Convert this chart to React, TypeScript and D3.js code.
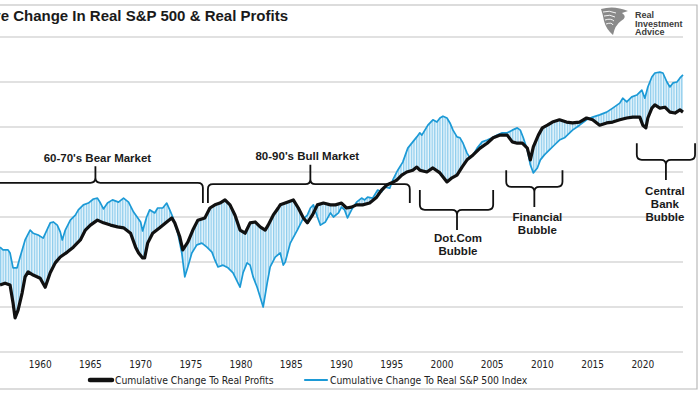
import React from "react";
import * as d3 from "d3";

// Real S&P 500 (blue), in chart units (one grid step = 100)
const spYears = [1956.0, 1956.3, 1956.8, 1957.0, 1957.3, 1957.7, 1958.0, 1958.5, 1959.0, 1959.3, 1959.8, 1960.3, 1961.0, 1961.3, 1961.7, 1962.0, 1962.2, 1962.5, 1963.0, 1963.5, 1963.8, 1964.3, 1964.8, 1965.3, 1965.7, 1966.0, 1966.3, 1966.7, 1967.2, 1967.8, 1968.3, 1968.8, 1969.3, 1970.0, 1970.2, 1970.6, 1970.9, 1971.4, 1971.7, 1972.2, 1972.6, 1972.9, 1973.2, 1973.7, 1974.1, 1974.4, 1974.7, 1975.1, 1975.6, 1976.1, 1976.6, 1977.1, 1977.4, 1977.7, 1978.2, 1978.7, 1979.2, 1979.7, 1979.9, 1980.2, 1980.6, 1980.9, 1981.2, 1981.6, 1981.9, 1982.2, 1982.6, 1982.9, 1983.4, 1983.9, 1984.2, 1984.4, 1984.9, 1985.6, 1986.1, 1986.6, 1986.9, 1987.2, 1987.6, 1987.9, 1988.4, 1988.9, 1989.2, 1989.7, 1990.0, 1990.3, 1990.6, 1991.0, 1991.5, 1992.0, 1992.3, 1992.6, 1993.1, 1993.6, 1994.0, 1994.3, 1994.8, 1995.1, 1995.6, 1996.1, 1996.6, 1997.1, 1997.5, 1997.8, 1998.0, 1998.3, 1998.6, 1999.1, 1999.5, 1999.8, 2000.1, 2000.5, 2000.8, 2001.1, 2001.5, 2001.8, 2002.1, 2002.5, 2002.8, 2003.1, 2003.5, 2004.0, 2004.5, 2005.0, 2005.5, 2006.0, 2006.5, 2007.0, 2007.5, 2007.8, 2008.1, 2008.5, 2008.8, 2009.1, 2009.5, 2009.8, 2010.2, 2010.7, 2011.2, 2011.7, 2012.2, 2013.0, 2013.7, 2014.4, 2015.0, 2015.7, 2016.4, 2017.0, 2017.7, 2018.0, 2018.4, 2018.9, 2019.4, 2019.9, 2020.2, 2020.5, 2020.9, 2021.2, 2021.7, 2022.0, 2022.4, 2022.7, 2023.0, 2023.4, 2023.7, 2024.0];
const spValues = [233, 227, 227, 220, 187, 187, 211, 249, 271, 264, 260, 253, 287, 289, 282, 267, 249, 271, 293, 304, 316, 327, 331, 340, 342, 331, 318, 331, 338, 333, 342, 333, 311, 289, 269, 300, 316, 309, 320, 320, 331, 316, 300, 264, 220, 167, 189, 220, 238, 242, 233, 222, 204, 189, 193, 187, 176, 153, 144, 176, 198, 193, 167, 144, 122, 100, 153, 189, 211, 220, 193, 200, 242, 271, 293, 304, 320, 327, 300, 282, 289, 309, 300, 309, 322, 316, 298, 316, 333, 342, 338, 344, 342, 360, 356, 367, 364, 382, 404, 422, 453, 467, 478, 487, 482, 493, 504, 516, 511, 520, 524, 520, 509, 493, 478, 476, 464, 442, 431, 438, 453, 467, 471, 476, 482, 487, 487, 493, 498, 493, 476, 449, 416, 398, 409, 427, 438, 449, 460, 471, 476, 493, 504, 516, 522, 527, 533, 542, 553, 564, 556, 567, 571, 582, 564, 589, 611, 620, 622, 620, 600, 589, 598, 600, 609, 616];

// Real profits (black)
const profitYears = [1956.0, 1956.5, 1957.0, 1957.3, 1957.5, 1957.8, 1958.2, 1958.5, 1958.8, 1959.3, 1960.0, 1960.5, 1961.0, 1961.5, 1962.0, 1962.7, 1963.3, 1964.0, 1964.5, 1965.0, 1965.7, 1966.3, 1967.0, 1967.7, 1968.3, 1969.0, 1969.5, 1969.8, 1970.2, 1970.4, 1970.7, 1971.2, 1971.9, 1972.6, 1973.1, 1973.4, 1973.9, 1974.2, 1974.7, 1975.2, 1975.7, 1976.4, 1976.9, 1977.4, 1977.9, 1978.4, 1978.9, 1979.4, 1979.9, 1980.4, 1980.9, 1981.4, 1981.9, 1982.4, 1982.7, 1983.2, 1983.7, 1983.9, 1984.6, 1985.2, 1985.7, 1986.2, 1986.6, 1987.1, 1987.6, 1988.2, 1988.9, 1989.4, 1990.0, 1990.5, 1991.0, 1991.5, 1992.1, 1992.8, 1993.5, 1994.0, 1994.5, 1995.0, 1995.5, 1996.0, 1996.5, 1997.1, 1997.5, 1997.8, 1998.5, 1999.1, 1999.8, 2000.5, 2001.0, 2001.5, 2002.0, 2002.5, 2003.1, 2003.8, 2004.5, 2005.1, 2005.8, 2006.5, 2007.0, 2007.5, 2008.0, 2008.5, 2008.8, 2009.1, 2009.6, 2010.0, 2010.5, 2011.0, 2011.7, 2012.4, 2013.0, 2013.7, 2014.4, 2015.0, 2015.7, 2016.4, 2017.0, 2017.7, 2018.4, 2019.0, 2019.7, 2020.0, 2020.3, 2020.5, 2020.9, 2021.2, 2021.7, 2022.2, 2022.7, 2023.2, 2023.7, 2024.0];
const profitValues = [149, 153, 149, 109, 76, 93, 131, 167, 178, 171, 164, 144, 176, 198, 211, 222, 233, 249, 271, 282, 293, 287, 282, 278, 276, 264, 233, 220, 209, 209, 242, 264, 276, 289, 298, 287, 256, 227, 244, 271, 293, 298, 320, 327, 331, 338, 327, 304, 271, 264, 287, 289, 278, 271, 282, 304, 320, 327, 333, 338, 320, 298, 287, 304, 327, 331, 327, 327, 331, 320, 322, 327, 327, 331, 344, 360, 371, 376, 382, 393, 400, 404, 411, 404, 400, 409, 398, 378, 387, 393, 411, 427, 438, 453, 464, 476, 482, 482, 467, 464, 464, 453, 427, 456, 482, 498, 504, 511, 516, 511, 509, 511, 520, 516, 504, 509, 511, 516, 520, 522, 522, 504, 498, 520, 542, 549, 542, 544, 533, 531, 538, 533];

const tickYears = [1960, 1965, 1970, 1975, 1980, 1985, 1990, 1995, 2000, 2005, 2010, 2015, 2020];
const gridValues = [0, 100, 200, 300, 400, 500, 600, 700];
const legendLabels = ["Cumulative Change To Real Profits", "Cumulative Change To Real S&P 500 Index"];

// era braces: start/end/tip in years, levels in chart units
const braceFrom = [1954.8, 1976.7, 1997.8, 2006.4, 2019.4];
const braceTo = [1976.2, 1996.8, 2005.1, 2012.0, 2025.2];
const braceTip = [1965.5, 1986.9, 2001.5, 2009.2, 2022.3];
const braceLine = [376, 373, 316, 367, 427];
const braceEnd = [331, 331, 360, 404, 464];
const bracePoint = [413, 416, 271, 322, 382];
const braceLabels = [["60-70's Bear Market"], ["80-90's Bull Market"], ["Dot.Com", "Bubble"], ["Financial", "Bubble"], ["Central", "Bank", "Bubble"]];
const braceLabelYear = [1965.7, 1986.6, 2001.6, 2009.5, 2022.2];
const braceLabelValue = [422, 427, 244, 291, 349];

const W = 700;
const H = 394;

export default function App() {
  const svgRef = React.useRef(null);

  React.useEffect(() => {
    const svg = d3.select(svgRef.current);
    svg.selectAll("*").remove();

    const x = d3.scaleLinear().domain([1956, 2024]).range([0, 683]);
    const y = d3.scaleLinear().domain([0, 700]).range([352, 37]);

    const defs = svg.append("defs");
    const pat = defs.append("pattern").attr("id", "hatch").attr("patternUnits", "userSpaceOnUse")
      .attr("width", 2.6).attr("height", 4);
    pat.append("rect").attr("width", 2.6).attr("height", 4).attr("fill", "#eaf6fc");
    pat.append("line").attr("x1", 0.7).attr("x2", 0.7).attr("y1", 0).attr("y2", 4)
      .attr("stroke", "#4fb1e2").attr("stroke-width", 0.8);

    // frame
    svg.append("rect").attr("width", W).attr("height", H).attr("fill", "#fff");
    svg.append("path").attr("d", "M0,5 H697 V389 H0").attr("fill", "none").attr("stroke", "#b9b9b9").attr("stroke-width", 1.2);

    // grid
    svg.append("g").selectAll("line").data(gridValues).enter().append("line")
      .attr("x1", 0).attr("x2", 683)
      .attr("y1", (d) => y(d)).attr("y2", (d) => y(d))
      .attr("stroke", "#c4c4c4").attr("stroke-width", 1.2);

    // title (left part runs off the frame, as in the source image)
    svg.append("text").text("Cumulative Change In Real S&P 500 & Real Profits")
      .attr("x", 288).attr("y", 21).attr("text-anchor", "end")
      .attr("font-family", "Liberation Sans, Arial, sans-serif").attr("font-weight", "bold")
      .attr("font-size", 15).attr("fill", "#1a1a1a");

    // logo
    const logo = svg.append("g");
    logo.append("path").attr("d", "M601,9 Q614,5 628,11 L622,13 Q628,17 621,21 Q615,25 613,35 Q606,29 604,21 Q603,15 601,9 Z")
      .attr("fill", "#8a8a8a");
    [12, 16, 20, 24].forEach((yy, i) => {
      logo.append("path").attr("d", `M${603 + i},${yy} Q${609 + i},${yy - 2} ${616 - i},${yy + 1}`)
        .attr("fill", "none").attr("stroke", "#fff").attr("stroke-width", 0.9);
    });
    ["Real", "Investment", "Advice"].forEach((t, i) => {
      logo.append("text").text(t).attr("x", 635).attr("y", 18 + i * 8.5)
        .attr("font-family", "Liberation Sans, Arial, sans-serif").attr("font-weight", "bold")
        .attr("font-size", 9).attr("fill", "#3c3c3c");
    });

    const spPts = spYears.map((d, i) => [x(d), y(spValues[i])]);
    const prPts = profitYears.map((d, i) => [x(d), y(profitValues[i])]);
    const line = d3.line();

    // hatched band between the two series
    const band = line(spPts) + "L" + line(prPts.slice().reverse()).slice(1) + "Z";
    svg.append("path").attr("d", band).attr("fill", "url(#hatch)").attr("fill-rule", "nonzero");

    svg.append("path").attr("d", line(spPts)).attr("fill", "none")
      .attr("stroke", "#1c9ad6").attr("stroke-width", 1.7).attr("stroke-linejoin", "round");
    svg.append("path").attr("d", line(prPts)).attr("fill", "none")
      .attr("stroke", "#111").attr("stroke-width", 3.2).attr("stroke-linejoin", "round");

    // braces
    const bg = svg.append("g");
    braceFrom.forEach((from, i) => {
      const x1 = x(from), x2 = x(braceTo[i]), xm = x(braceTip[i]);
      const yl = y(braceLine[i]), ye = y(braceEnd[i]), yt = y(bracePoint[i]);
      const r = 5;
      const de = Math.sign(ye - yl);
      const dt = Math.sign(yt - yl);
      const d = `M${x1},${ye} L${x1},${yl + de * r} Q${x1},${yl} ${x1 + r},${yl} L${xm - r},${yl} Q${xm},${yl} ${xm},${yl + dt * r} L${xm},${yt}`
        + ` M${xm},${yl + dt * r} Q${xm},${yl} ${xm + r},${yl} L${x2 - r},${yl} Q${x2},${yl} ${x2},${yl + de * r} L${x2},${ye}`;
      bg.append("path").attr("d", d).attr("fill", "none").attr("stroke", "#111").attr("stroke-width", 1.8);
      braceLabels[i].forEach((t, j) => {
        bg.append("text").text(t)
          .attr("x", x(braceLabelYear[i]))
          .attr("y", y(braceLabelValue[i]) + j * 13)
          .attr("text-anchor", "middle")
          .attr("font-family", "Liberation Sans, Arial, sans-serif").attr("font-weight", "bold")
          .attr("font-size", 11.5).attr("fill", "#1a1a1a");
      });
    });

    // x axis labels
    const narrow = "'Liberation Sans Narrow', 'Arial Narrow', 'DejaVu Sans Condensed', sans-serif";
    svg.append("g").selectAll("text").data(tickYears).enter().append("text")
      .text((d) => d)
      .attr("x", (d) => x(d)).attr("y", 368)
      .attr("text-anchor", "middle")
      .attr("font-family", narrow).attr("font-size", 10).attr("fill", "#222");

    // legend
    const lg = svg.append("g");
    const lx = [90, 305];
    const lc = ["#111", "#1c9ad6"];
    const lw = [4.5, 2.2];
    legendLabels.forEach((t, i) => {
      lg.append("line").attr("x1", lx[i]).attr("x2", lx[i] + 22).attr("y1", 380).attr("y2", 380)
        .attr("stroke", lc[i]).attr("stroke-width", lw[i]).attr("stroke-linecap", "round");
      lg.append("text").text(t).attr("x", lx[i] + 25).attr("y", 383.5)
        .attr("font-family", narrow).attr("font-size", 10.3).attr("fill", "#222");
    });
  }, []);

  return <svg ref={svgRef} width={W} height={H} style={{ position: "absolute", left: 0, top: 0 }} />;
}
